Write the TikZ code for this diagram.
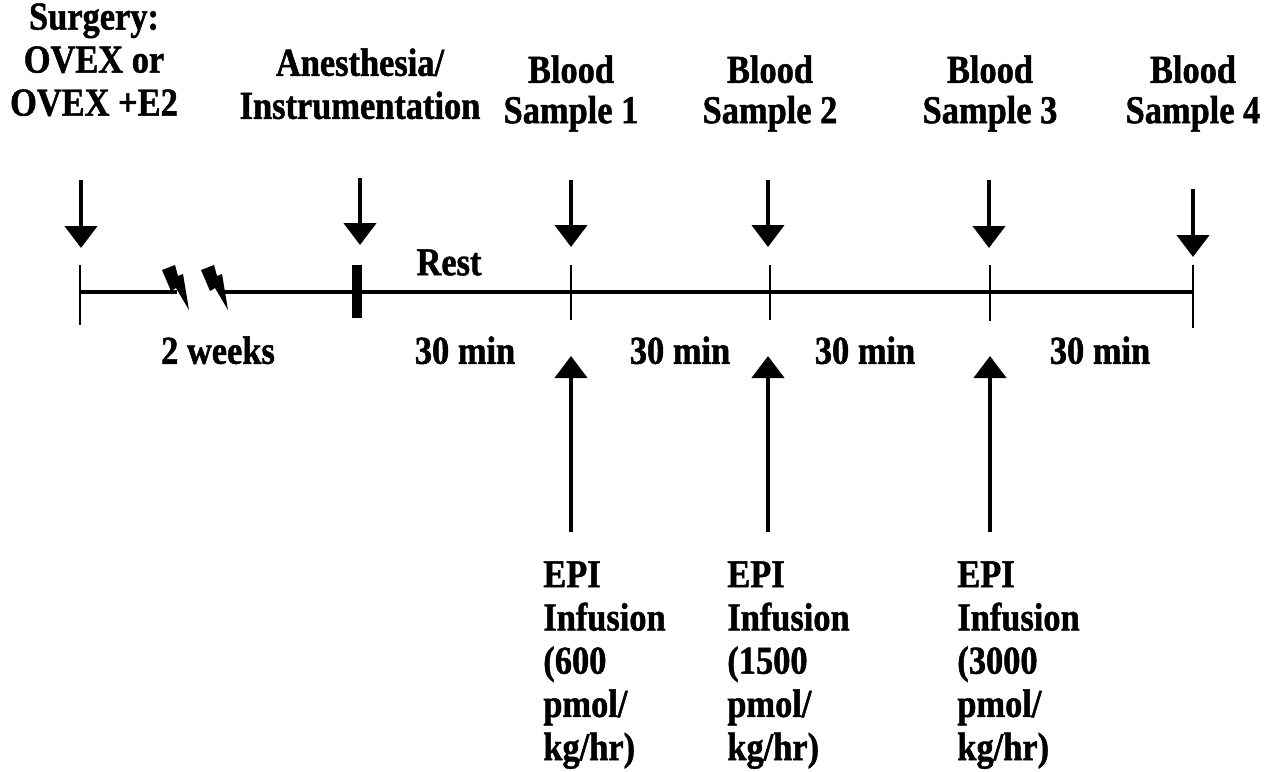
\documentclass[tikz,border=0pt]{standalone}
\usepackage{fontspec}
\setmainfont{Liberation Serif}[FakeStretch=0.87, BoldFeatures={FakeBold=1.2}]
\usetikzlibrary{arrows.meta}
\tikzset{
  lbl/.style={font=\bfseries\fontsize{22.5}{24.5}\selectfont, align=center, inner sep=0pt, anchor=north},
  blood/.style={lbl, font=\bfseries\fontsize{22.5}{23}\selectfont},
  epi/.style={lbl, align=left, anchor=north west, font=\bfseries\fontsize{22.5}{24.6}\selectfont},
  tline/.style={line width=2pt},
  tick/.style={line width=1.1pt},
  down/.style={-{Triangle[width=0.64cm,length=0.44cm]}, line width=2.6pt},
  bolt/.style={fill=black},
}

\begin{document}
\begin{tikzpicture}[x=0.02cm, y=-0.02cm]
    \useasboundingbox (0,0) rectangle (1267,771);
    \node[lbl] (surg) at (94,3) {Surgery:\\OVEX or\\OVEX +E2};
    \node[lbl] (anes) at (360,48) {Anesthesia/\\Instrumentation};
    \node[blood] (bs1) at (571,55) {Blood\\Sample 1};
    \node[blood] (bs2) at (770,55) {Blood\\Sample 2};
    \node[blood] (bs3) at (990,55) {Blood\\Sample 3};
    \node[blood] (bs4) at (1193,55) {Blood\\Sample 4};
    \node[lbl] (rest) at (449,249) {Rest};
    \node[lbl] (wk) at (218,336) {2 weeks};
    \node[lbl] (m1) at (465,336) {30 min};
    \node[lbl] (m2) at (680,336) {30 min};
    \node[lbl] (m3) at (865,336) {30 min};
    \node[lbl] (m4) at (1100,336) {30 min};
    \node[epi] (epi1) at (543,561) {EPI\\Infusion\\(600\\pmol/\\kg/hr)};
    \node[epi] (epi2) at (727,561) {EPI\\Infusion\\(1500\\pmol/\\kg/hr)};
    \node[epi] (epi3) at (957,561) {EPI\\Infusion\\(3000\\pmol/\\kg/hr)};
    % timeline
    \coordinate (t0) at (80,292);   \coordinate (br1) at (177,292);
    \coordinate (br2) at (221,292); \coordinate (t1) at (357,292);
    \coordinate (t2) at (571,292);  \coordinate (t3) at (770,292);
    \coordinate (t4) at (990,292);  \coordinate (t5) at (1193,292);
    \draw[tline] (t0) -- (br1);
    \draw[tline] (br2) -- (t5);
    \draw[tick] (80,265) -- (80,325);
    \fill (352,265) rectangle (362,318);
    \draw[tick] (571,265) -- (571,320);
    \draw[tick] (770,265) -- (770,320);
    \draw[tick] (990,265) -- (990,321);
    \draw[tick] (1193,265) -- (1193,328);
    \foreach \bx in {162,201}
      \fill[bolt] (\bx,270) -- ++(13,-5) -- ++(3,11) -- ++(5,-2) -- ++(6,36) -- ++(-13,-22) -- ++(-5,3) -- cycle;
    % arrows
    \coordinate (d0) at (81,180);    \coordinate (e0) at (81,248);
    \coordinate (d1) at (360,178);   \coordinate (e1) at (360,245);
    \coordinate (d2) at (571,180);   \coordinate (e2) at (571,247);
    \coordinate (d3) at (768,180);   \coordinate (e3) at (768,247);
    \coordinate (d4) at (989,180);   \coordinate (e4) at (989,248);
    \coordinate (d5) at (1193,189);  \coordinate (e5) at (1193,257);
    \foreach \i in {0,...,5} \draw[down] (d\i) -- (e\i);
    \coordinate (u1) at (571,532);   \coordinate (v1) at (571,356);
    \coordinate (u2) at (768,532);   \coordinate (v2) at (768,356);
    \coordinate (u3) at (990,532);   \coordinate (v3) at (990,356);
    \foreach \i in {1,2,3} \draw[down] (u\i) -- (v\i);
\end{tikzpicture}
\end{document}
